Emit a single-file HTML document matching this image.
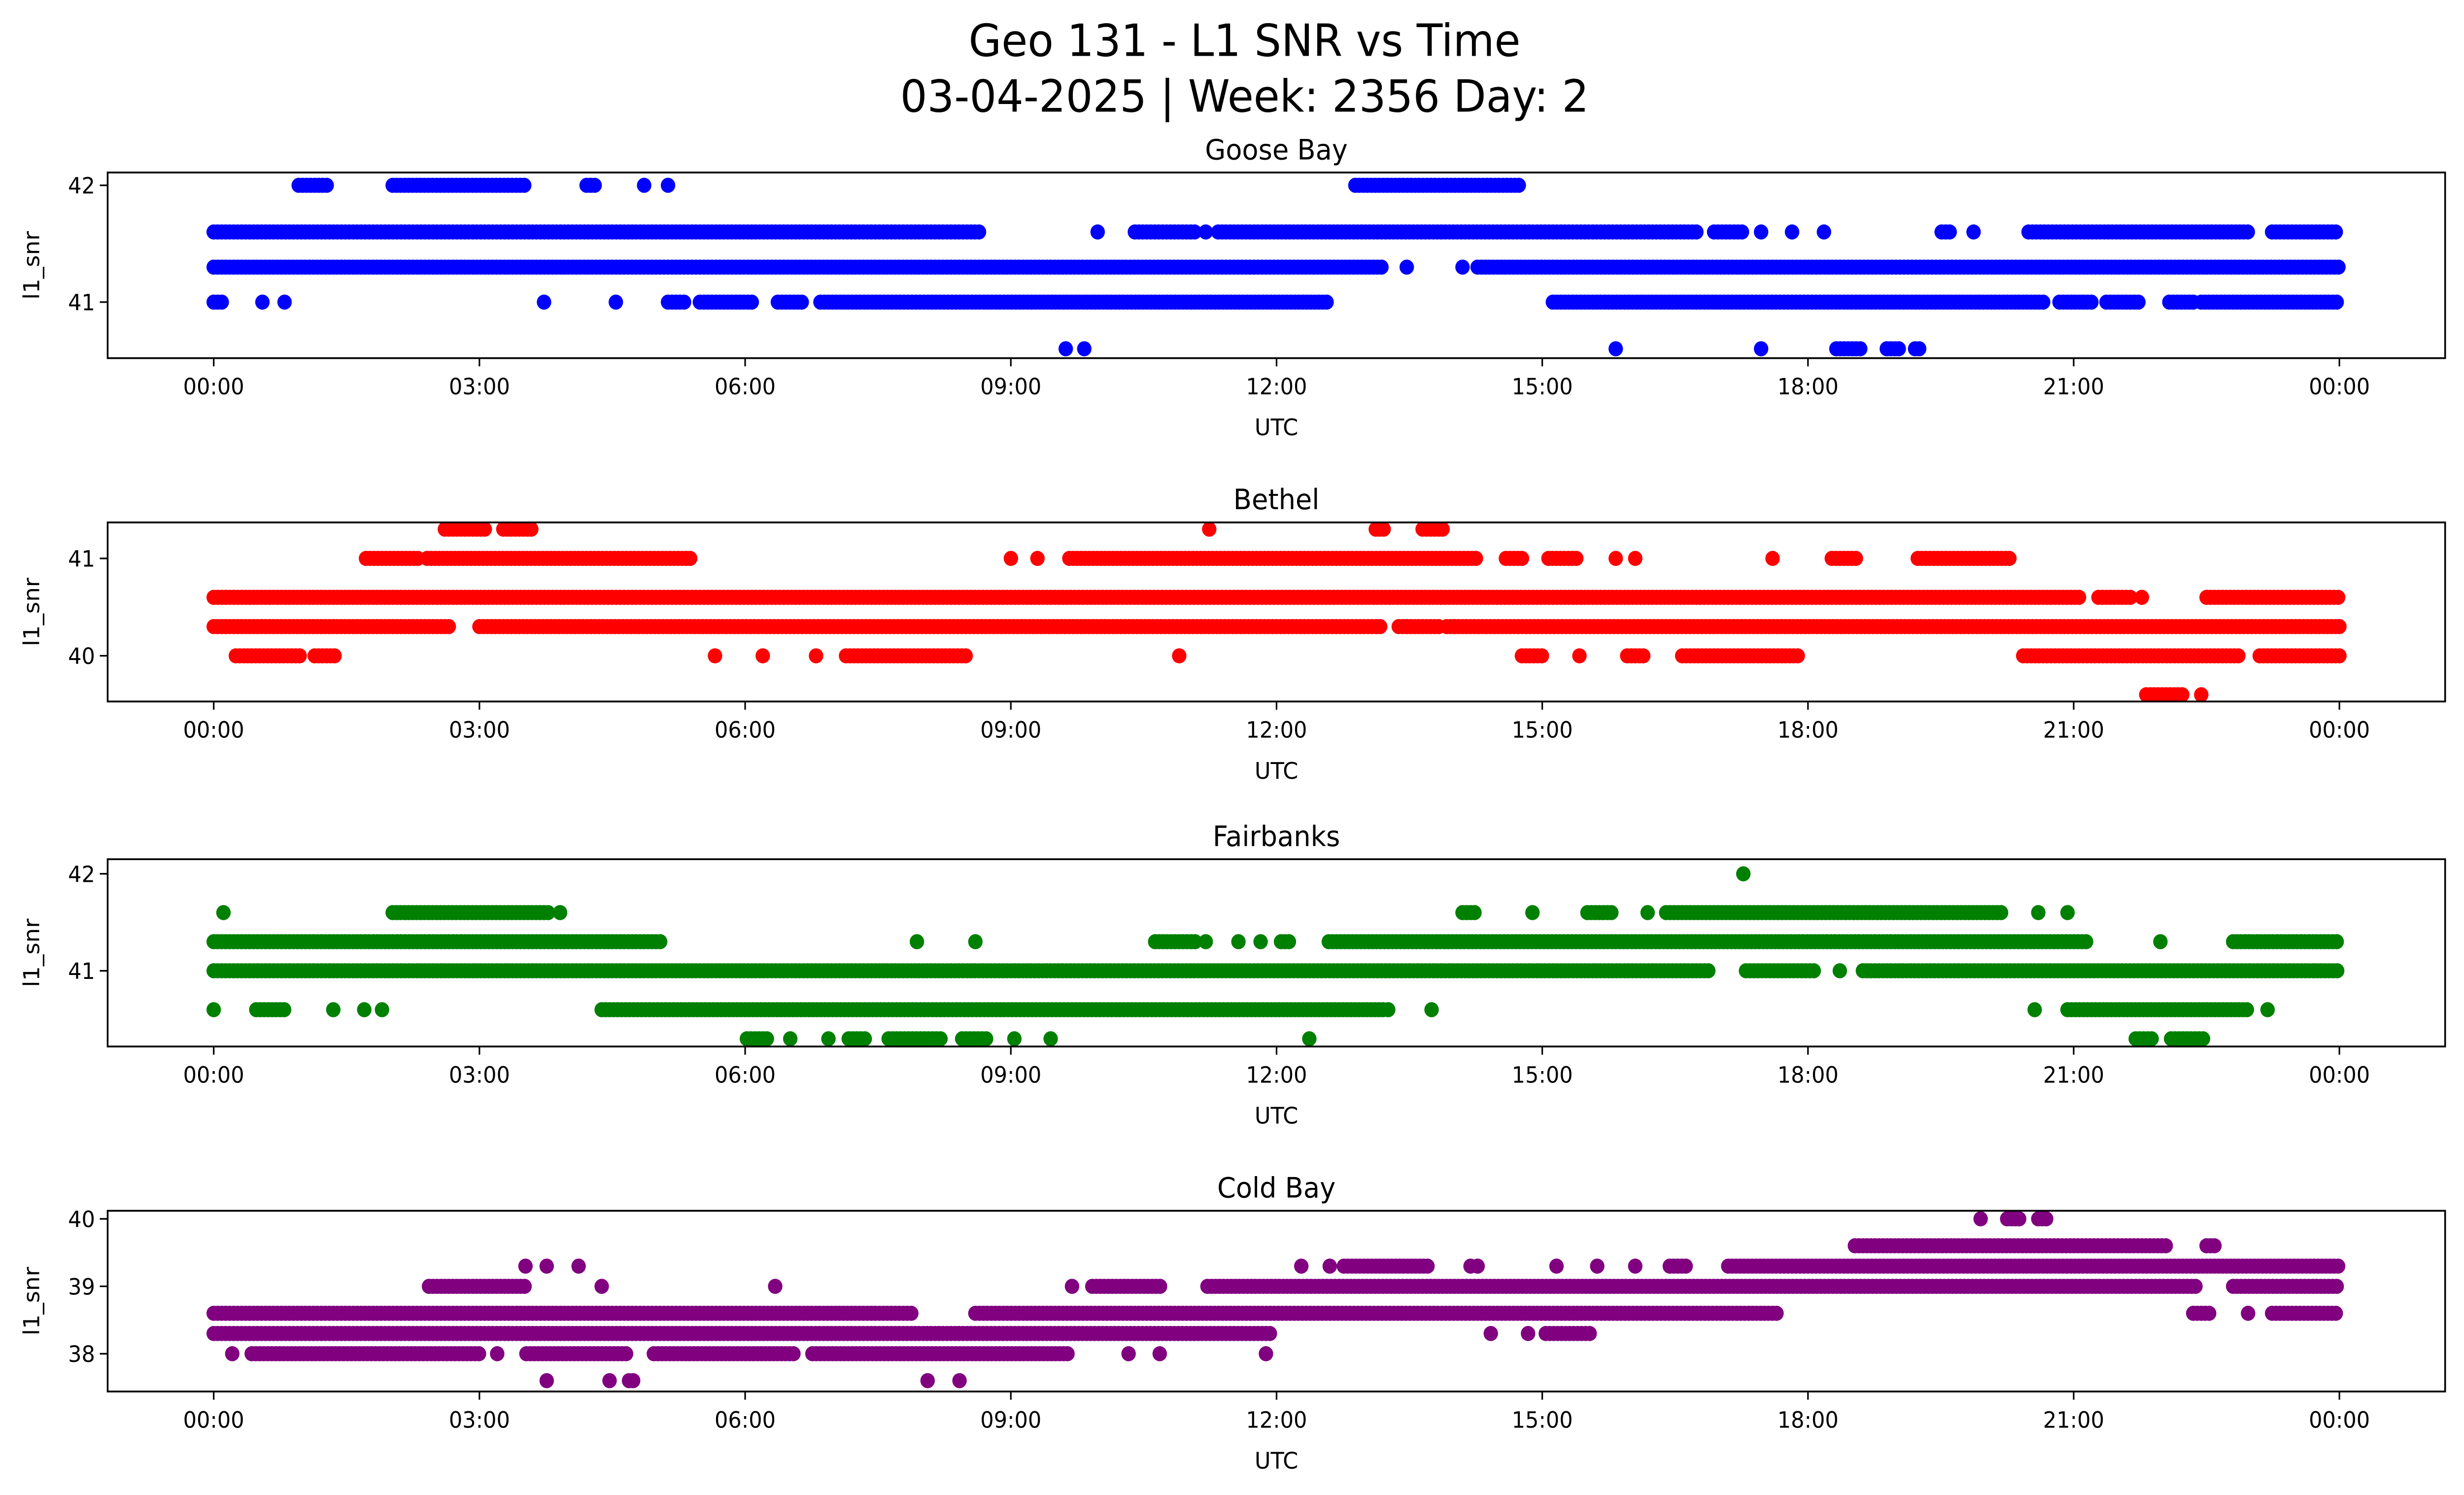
<!DOCTYPE html>
<html><head><meta charset="utf-8">
<style>
html,body{margin:0;padding:0;background:#fff;width:100%;height:100%;overflow:hidden;}
svg{display:block;width:100vw;height:100vh;font-family:"DejaVu Sans","Liberation Sans",sans-serif;}
</style></head>
<body>
<svg id="chart" viewBox="0 0 1568 910" preserveAspectRatio="none" xmlns="http://www.w3.org/2000/svg">
<rect width="1568" height="910" fill="#fff"/>
<text x="792" y="34" font-size="27" text-anchor="middle">Geo 131 - L1 SNR vs Time</text>
<text x="792" y="68" font-size="27" text-anchor="middle">03-04-2025 | Week: 2356 Day: 2</text>
<g id="plots"></g>
</svg>
<script>
// ---- data: runs of [value, startHour, endHour] (UTC hours) ----
const stations = ["Goose Bay","Bethel","Fairbanks","Cold Bay"];
const colors = ["#0000ff","#ff0000","#008000","#800080"];
const xTicks = [0,3,6,9,12,15,18,21,24];
const xTickLabels = ["00:00","03:00","06:00","09:00","12:00","15:00","18:00","21:00","00:00"];
const yTicks1 = [41,42];
const yTicks2 = [40,41];
const yTicks3 = [41,42];
const yTicks4 = [38,39,40];
const yRange1 = [40.52,42.11];
const yRange2 = [39.53,41.37];
const yRange3 = [40.22,42.15];
const yRange4 = [37.44,40.12];
const runs1 = [
 [41.6,0,8.68],[41.6,9.98,9.98],[41.6,10.4,11.1],[41.6,11.2,11.2],[41.6,11.34,16.76],[41.6,16.94,17.29],[41.6,17.47,17.47],[41.6,17.82,17.82],[41.6,18.18,18.18],[41.6,19.51,19.6],[41.6,19.87,19.87],[41.6,20.49,22.97],[41.6,23.24,24],
 [41.3,0,13.21],[41.3,13.47,13.47],[41.3,14.1,14.1],[41.3,14.27,24],
 [41.0,0,0.09],[41.0,0.55,0.55],[41.0,0.8,0.8],[41.0,3.73,3.73],[41.0,4.54,4.54],[41.0,5.13,5.31],[41.0,5.49,6.11],[41.0,6.37,6.64],[41.0,6.85,12.59],[41.0,15.12,20.66],[41.0,20.84,21.2],[41.0,21.37,21.73],[41.0,22.08,22.35],[41.0,22.44,24],
 [42.0,0.96,1.28],[42.0,2.02,3.53],[42.0,4.21,4.33],[42.0,4.86,4.86],[42.0,5.13,5.13],[42.0,12.89,14.77],
 [40.6,9.62,9.62],[40.6,9.83,9.83],[40.6,15.83,15.83],[40.6,17.47,17.47],[40.6,18.32,18.62],[40.6,18.89,19.03],[40.6,19.21,19.28]
];
const runs2 = [
 [40.6,0,21.1],[40.6,21.28,21.64],[40.6,21.77,21.77],[40.6,22.5,24],
 [40.3,0,2.68],[40.3,3.0,13.21],[40.3,13.38,13.83],[40.3,13.92,24],
 [41.0,1.72,2.34],[41.0,2.41,5.4],[41.0,9.0,9.0],[41.0,9.3,9.3],[41.0,9.66,14.27],[41.0,14.59,14.81],[41.0,15.07,15.42],[41.0,15.83,15.83],[41.0,16.05,16.05],[41.0,17.6,17.6],[41.0,18.27,18.54],[41.0,19.24,20.3],
 [40.0,0.25,1.01],[40.0,1.14,1.37],[40.0,5.66,5.66],[40.0,6.2,6.2],[40.0,6.8,6.8],[40.0,7.14,8.5],[40.0,10.9,10.9],[40.0,14.77,15.03],[40.0,15.42,15.42],[40.0,15.96,16.17],[40.0,16.58,17.9],[40.0,20.43,22.9],[40.0,23.1,24],
 [41.3,2.61,3.09],[41.3,3.27,3.62],[41.3,11.24,11.24],[41.3,13.12,13.24],[41.3,13.65,13.88],
 [39.6,21.82,22.26],[39.6,22.44,22.44]
];
const runs3 = [
 [41.3,0,5.04],[41.3,7.94,7.94],[41.3,8.6,8.6],[41.3,10.63,11.08],[41.3,11.2,11.2],[41.3,11.57,11.57],[41.3,11.82,11.82],[41.3,12.05,12.14],[41.3,12.59,21.16],[41.3,21.98,21.98],[41.3,22.8,24],
 [41.0,0,16.9],[41.0,17.3,18.1],[41.0,18.36,18.36],[41.0,18.62,24],
 [41.6,0.11,0.11],[41.6,2.02,3.8],[41.6,3.91,3.91],[41.6,14.1,14.27],[41.6,14.89,14.89],[41.6,15.51,15.78],[41.6,16.19,16.19],[41.6,16.4,20.22],[41.6,20.6,20.6],[41.6,20.93,20.93],
 [40.6,0,0],[40.6,0.48,0.82],[40.6,1.35,1.35],[40.6,1.7,1.7],[40.6,1.9,1.9],[40.6,4.38,13.2],[40.6,13.26,13.26],[40.6,13.75,13.75],[40.6,20.56,20.56],[40.6,20.93,22.97],[40.6,23.19,23.19],
 [40.3,6.02,6.28],[40.3,6.51,6.51],[40.3,6.94,6.94],[40.3,7.17,7.35],[40.3,7.62,8.24],[40.3,8.45,8.74],[40.3,9.04,9.04],[40.3,9.45,9.45],[40.3,12.37,12.37],[40.3,21.7,21.9],[40.3,22.1,22.5],
 [42.0,17.27,17.27]
];
const runs4 = [
 [38.3,0,11.96],
 [38.6,0,7.88],[38.6,8.6,17.65],[38.6,22.35,22.53],[38.6,22.97,22.97],[38.6,23.24,24],
 [38.0,0.21,0.21],[38.0,0.43,3.0],[38.0,3.2,3.2],[38.0,3.53,4.69],[38.0,4.97,6.55],[38.0,6.76,9.66],[38.0,10.33,10.33],[38.0,10.68,10.68],[38.0,11.88,11.88],
 [39.0,2.43,3.53],[39.0,4.38,4.38],[39.0,6.34,6.34],[39.0,9.69,9.69],[39.0,9.92,10.72],[39.0,11.22,17.65],[39.0,17.65,22.4],[39.0,22.8,24],
 [39.3,3.52,3.52],[39.3,3.76,3.76],[39.3,4.12,4.12],[39.3,12.28,12.28],[39.3,12.6,12.6],[39.3,12.76,13.74],[39.3,14.19,14.19],[39.3,14.27,14.27],[39.3,15.16,15.16],[39.3,15.62,15.62],[39.3,16.05,16.05],[39.3,16.44,16.62],[39.3,17.1,24],
 [39.6,18.53,22.08],[39.6,22.5,22.6],
 [40.0,19.95,19.95],[40.0,20.25,20.4],[40.0,20.6,20.7],
 [37.6,3.76,3.76],[37.6,4.47,4.47],[37.6,4.69,4.75],[37.6,8.06,8.06],[37.6,8.42,8.42],
 [38.3,14.42,14.42],[38.3,14.84,14.84],[38.3,15.04,15.55]
];
const allRuns = [runs1,runs2,runs3,runs4];
const allYTicks = [yTicks1,yTicks2,yTicks3,yTicks4];
const allYRanges = [yRange1,yRange2,yRange3,yRange4];

// ---- layout ----
const NS="http://www.w3.org/2000/svg";
const axL=68.5, axR=1556, x0=136, x24=1488.7;
const panelTops=[105,318,523,737], panelBots=[218,427,637,847];
const step=0.045;
function xScale(h){return x0+(x24-x0)*h/24;}
function mk(tag,attrs,parent){const e=document.createElementNS(NS,tag);for(const k in attrs)e.setAttribute(k,attrs[k]);parent.appendChild(e);return e;}
const root=document.getElementById('plots');
stations.forEach((name,i)=>{
  const top=panelTops[i], bot=panelBots[i], yr=allYRanges[i];
  const yScale=v=>bot-(v-yr[0])/(yr[1]-yr[0])*(bot-top);
  const g=mk('g',{},root);
  
  
  const t=mk('text',{x:(axL+axR)/2,y:top-8,'font-size':17,'text-anchor':'middle'},g);
  t.textContent=name;
  
  
  const pts=mk('g',{fill:colors[i]},g);
  
  
  allRuns[i].forEach(r=>{
    const [v,a,b]=r;
    for(let h=a;h<=b+1e-9;h+=step){
      mk('circle',{cx:xScale(h).toFixed(1),cy:yScale(v).toFixed(1),r:4.6},pts);
    }
  });
  const fr=mk('rect',{x:axL,y:top,width:axR-axL,height:bot-top,fill:'none',stroke:'#000','stroke-width':1.1},g);
  
  
  xTicks.forEach((h,k)=>{
    const x=xScale(h);
    mk('line',{x1:x,x2:x,y1:bot,y2:bot+5,stroke:'#000','stroke-width':1},g);
    const tl=mk('text',{x:x,y:bot+22,'font-size':13.5,'text-anchor':'middle'},g);
    tl.textContent=xTickLabels[k];
    
    
  });
  allYTicks[i].forEach(v=>{
    const y=yScale(v);
    mk('line',{x1:axL-5,x2:axL,y1:y,y2:y,stroke:'#000','stroke-width':1},g);
    const yl=mk('text',{x:axL-8,y:y+5,'font-size':13.5,'text-anchor':'end'},g);
    yl.textContent=String(v);
    
    
  });
  const xt=mk('text',{x:(axL+axR)/2,y:bot+47,'font-size':14,'text-anchor':'middle'},g);
  xt.textContent='UTC';
  
  
  const cy=(top+bot)/2;
  const yt=mk('text',{x:25,y:cy,'font-size':14,'text-anchor':'middle',transform:'rotate(-90 25 '+cy+')'},g);
  yt.textContent='l1_snr';
  
  
});
</script>
</body></html>
